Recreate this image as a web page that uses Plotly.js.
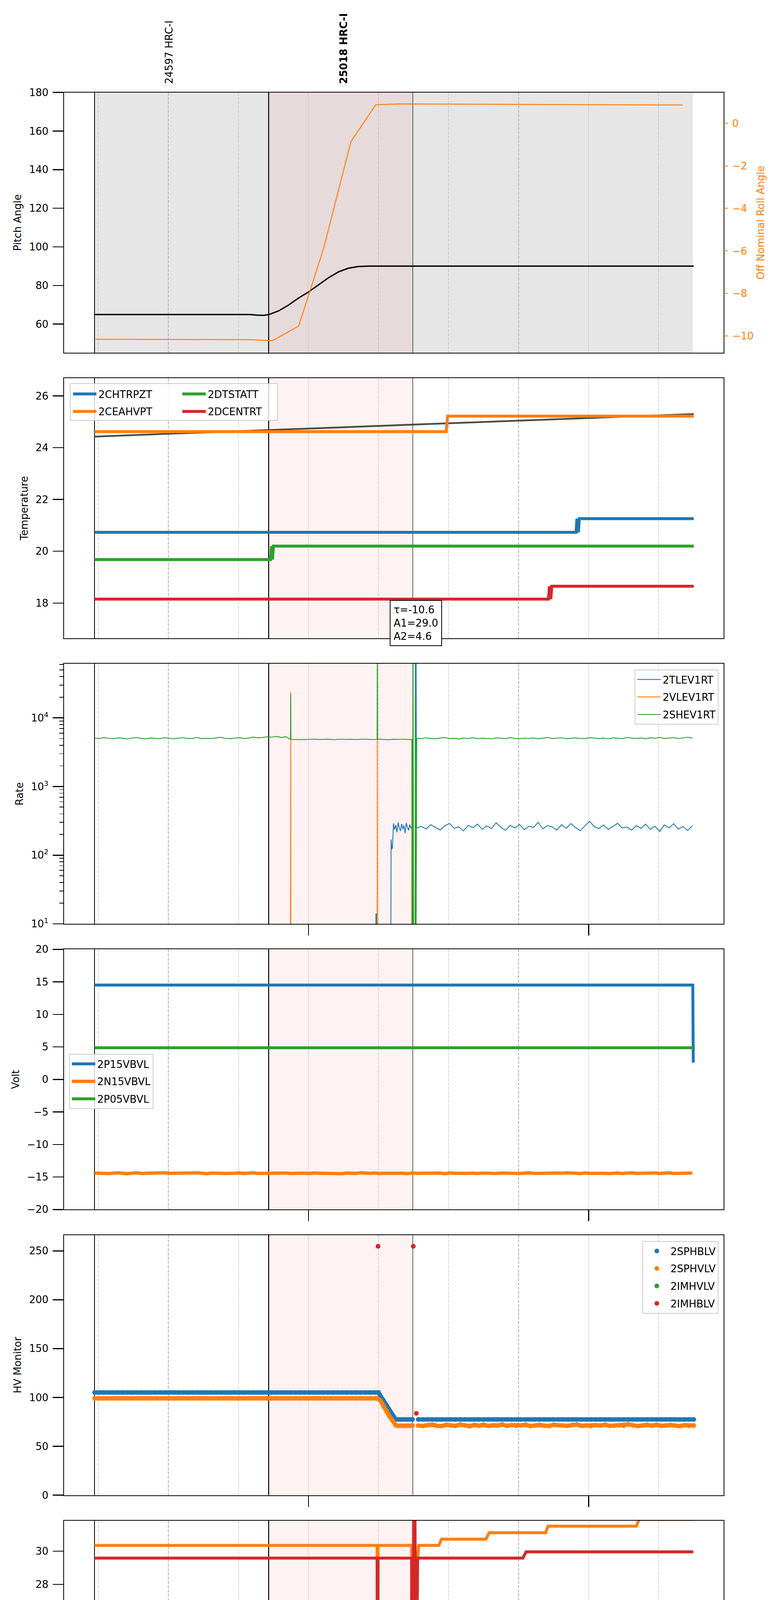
<!DOCTYPE html>
<html>
<head>
<meta charset="utf-8">
<script src="https://cdn.plot.ly/plotly-3.0.1.min.js"></script>
<style>body { margin: 0; background: #fff; }</style>
</head>
<body>
<div id="chart" style="width:2000px;height:5400px"></div>
<script>
// all times are minutes after 2021-06-22 20:00

let xRange = [7.69, 148.87];
let hourVals = [60, 120];
let hourText = ['21h', '22h'];
let quarterVals = [15, 30, 45, 75, 90, 105, 135];
let quarterText = ['15', '30', '45', '15', '30', '45', '15'];

let obsStart = 14.19, obsEnd = 142.3;
let hrcStart = 51.48, hrcEnd = 82.35;
let obsLabels = ['24597 HRC-I', '<b>25018 HRC-I</b>'];
let obsLabelX = [30.1, 67.5];

let fitText = 'τ=-10.6<br>A1=29.0<br>A2=4.6';

// --- pitch / roll
let pitchT = [14.2, 47.5, 49.0, 50.5, 51.5, 53.6, 55.7, 57.9, 60.0, 62.1, 64.3, 66.4, 68.5, 70.7, 72.8, 142.5];
let pitchV = [64.9, 64.9, 64.6, 64.5, 64.9, 66.8, 69.8, 73.5, 76.6, 80.3, 84.0, 87.0, 88.9, 89.8, 90.0, 90.0];
let rollT = [14.2, 47.2, 52.3, 57.9, 63.2, 69.1, 74.4, 79.2, 140.1];
let rollV = [-10.15, -10.17, -10.22, -9.53, -5.92, -0.86, 0.87, 0.91, 0.86];

// --- temperature
let chtrpztT = [14.2, 117.3, 117.5, 117.8, 118.0, 142.5];
let chtrpztV = [20.73, 20.73, 21.26, 20.73, 21.26, 21.26];
let ceahvptT = [14.2, 89.5, 89.8, 142.5];
let ceahvptV = [24.62, 24.62, 25.22, 25.22];
let dtstattT = [14.2, 51.9, 52.1, 52.3, 52.5, 142.5];
let dtstattV = [19.68, 19.68, 20.2, 19.68, 20.2, 20.2];
let dcentrtT = [14.2, 111.4, 111.6, 111.9, 112.1, 142.5];
let dcentrtV = [18.15, 18.15, 18.65, 18.15, 18.65, 18.65];
let trendT = [14.2, 142.5];
let trendV = [24.43, 25.30];

// --- rates (1 minute samples from 14.2)
let shevRate = [
  5080, 4990, 5150, 5020, 4960, 5110, 5050, 4930, 5070, 5180,
  5000, 4950, 5090, 5040, 4970, 5130, 5010, 4940, 5060, 5120,
  4980, 5030, 5170, 4960, 5050, 4990, 5100, 5210, 5020, 4970,
  5080, 5140, 5000, 5060, 5250, 5110, 5180, 5300,
  5240, 5350, 5180, 5300, 4880, 4840, 4870, 4820, 4860, 4900,
  4830, 4850, 4880, 4810, 4860, 4890, 4840, 4870, 4820, 4850,
  4900, 4830, 4860, 4880, 4840, 4810, 4870, 4850, 4890, 4830,
  4900, 5050, 4980, 5120, 5010, 4950, 5090, 5160, 4990, 5040,
  4930, 5080, 5020, 5130, 4970, 5060, 5000, 4940, 5110, 5050,
  4980, 5150, 5020, 4960, 5070, 5010, 5100, 4950, 5040, 5180,
  4990, 5060, 5120, 4970, 5030, 5090, 5010, 4960, 5140, 5050,
  5000, 5080, 4940, 5110, 5030, 4980, 5170, 5060, 5010, 5090,
  4950, 5130, 5040, 5200, 5000, 5070, 5150, 4990, 5100, 5220, 5060
];
let shevSpikes = [
  { t: [56.15, 56.2, 56.25], v: [4880, 21600, 4850] },
  { t: [74.7, 74.75, 74.8], v: [4850, 200000, 4850] },
  { t: [82.15, 82.25, 82.4, 82.55, 82.8, 82.9, 83.0, 83.15], v: [4850, 0.5, 200000, 0.5, 0.5, 21900, 0.5, 5000] }
];
let tlevEarlyT = [14.2, 74.4, 74.45, 74.55, 74.6, 77.6, 77.7, 77.85, 78.0];
let tlevEarlyV = [0.5, 0.5, 14, 14, 0.5, 0.5, 169, 123, 128];
// quarter minute samples from 78.2
let tlevDense = [290, 235, 275, 215, 300, 250, 225, 285, 240, 270, 210, 295, 255, 230, 280, 245, 265];
let tlevSpikeT = [82.3, 82.85, 82.9, 83.05, 83.15];
let tlevSpikeV = [0.5, 0.5, 100000, 100000, 250];
// 1 minute samples from 83.2
let tlevLate = [
  250, 262, 241, 278, 255, 232, 268, 290, 247, 259,
  226, 273, 251, 284, 238, 266, 245, 297, 255, 230,
  272, 249, 281, 236, 263, 254, 301, 242, 270, 258,
  233, 279, 246, 288, 252, 227, 267, 312, 260, 244,
  275, 238, 262, 291, 249, 257, 232, 270, 246, 283,
  237, 265, 221, 276, 250, 288, 241, 262, 229, 268
];
let vlevT = [14.2, 56.15, 56.2, 56.25, 74.7, 74.75, 74.8, 82.1, 82.15, 82.2, 142.4];
let vlevV = [0.5, 0.5, 24000, 0.5, 0.5, 4800, 0.5, 0.5, 4800, 0.5, 0.5];
let rateTickVals = [10, 100, 1000, 10000];
let rateTickText = ['10<sup>1</sup>', '10<sup>2</sup>', '10<sup>3</sup>', '10<sup>4</sup>'];
let rateMinorVals = [20, 30, 40, 50, 60, 70, 80, 90, 200, 300, 400, 500, 600, 700, 800, 900,
  2000, 3000, 4000, 5000, 6000, 7000, 8000, 9000, 20000, 30000, 40000, 50000, 60000];

// --- voltages
let p15T = [14.2, 142.3, 142.4];
let p15V = [14.51, 14.51, 2.58];
let p05T = [14.2, 142.4];
let p05V = [4.87, 4.87];
// 1 minute samples from 14.2
let n15V = [
  -14.40, -14.45, -14.38, -14.47, -14.42, -14.36, -14.44, -14.49, -14.41, -14.37,
  -14.46, -14.43, -14.39, -14.48, -14.40, -14.35, -14.44, -14.42, -14.47, -14.38,
  -14.41, -14.45, -14.37, -14.43, -14.50, -14.40, -14.36, -14.44, -14.46, -14.39,
  -14.42, -14.38, -14.47, -14.41, -14.35, -14.45, -14.43, -14.40, -14.48, -14.37,
  -14.44, -14.39, -14.46, -14.42, -14.36, -14.41, -14.47, -14.38, -14.43, -14.45,
  -14.40, -14.37, -14.44, -14.49, -14.39, -14.42, -14.46, -14.35, -14.41, -14.44,
  -14.38, -14.47, -14.43, -14.40, -14.45, -14.36, -14.42, -14.48, -14.39, -14.44,
  -14.41, -14.37, -14.46, -14.43, -14.40, -14.50, -14.38, -14.42, -14.45, -14.36,
  -14.44, -14.41, -14.47, -14.39, -14.43, -14.37, -14.46, -14.40, -14.42, -14.48,
  -14.38, -14.45, -14.41, -14.36, -14.44, -14.47, -14.40, -14.43, -14.39, -14.46,
  -14.42, -14.37, -14.45, -14.41, -14.48, -14.38, -14.44, -14.40, -14.35, -14.43,
  -14.47, -14.42, -14.39, -14.45, -14.41, -14.37, -14.46, -14.43, -14.40, -14.44,
  -14.38, -14.47, -14.42, -14.36, -14.45, -14.41, -14.39, -14.44, -14.40
];

// --- HV monitor: 1 minute samples from 14.2, a transition, then 1 minute samples from 83.5
let sphblvA = [
  105.1, 105.1, 105.1, 105.1, 105.1, 105.1, 105.1, 105.1, 105.1, 105.1,
  105.1, 105.1, 105.1, 105.1, 105.1, 105.1, 105.1, 105.1, 105.1, 105.1,
  105.1, 105.1, 105.1, 105.1, 105.1, 105.1, 105.1, 105.1, 105.1, 105.1,
  105.1, 105.1, 105.1, 105.1, 105.1, 105.1, 105.1, 105.1, 105.1, 105.1,
  105.1, 105.1, 105.1, 105.1, 105.1, 105.1, 105.1, 105.1, 105.1, 105.1,
  105.1, 105.1, 105.1, 105.1, 105.1, 105.1, 105.1, 105.1, 105.1, 105.1, 105.1
];
let sphblvMidT = [75.0, 75.3, 76.05, 76.7, 77.3, 77.97, 78.7, 79.3, 79.9, 80.5, 81.1, 81.7, 82.3];
let sphblvMidV = [105.1, 102.6, 97.0, 91.9, 86.9, 82.0, 77.5, 77.5, 77.5, 77.5, 77.5, 77.5, 77.5];
let sphblvB = [
  77.5, 77.5, 77.5, 77.5, 77.5, 77.5, 77.5, 77.5, 77.5, 77.5,
  77.5, 77.5, 77.5, 77.5, 77.5, 77.5, 77.5, 77.5, 77.5, 77.5,
  77.5, 77.5, 77.5, 77.5, 77.5, 77.5, 77.5, 77.5, 77.5, 77.5,
  77.5, 77.5, 77.5, 77.5, 77.5, 77.5, 77.5, 77.5, 77.5, 77.5,
  77.5, 77.5, 77.5, 77.5, 77.5, 77.5, 77.5, 77.5, 77.5, 77.5,
  77.5, 77.5, 77.5, 77.5, 77.5, 77.5, 77.5, 77.5, 77.5, 77.5
];
let sphvlvA = [
  99.05, 99.05, 99.05, 99.05, 99.05, 99.05, 99.05, 99.05, 99.05, 99.05,
  99.05, 99.05, 99.05, 99.05, 99.05, 99.05, 99.05, 99.05, 99.05, 99.05,
  99.05, 99.05, 99.05, 99.05, 99.05, 99.05, 99.05, 99.05, 99.05, 99.05,
  99.05, 99.05, 99.05, 99.05, 99.05, 99.05, 99.05, 99.05, 99.05, 99.05,
  99.05, 99.05, 99.05, 99.05, 99.05, 99.05, 99.05, 99.05, 99.05, 99.05,
  99.05, 99.05, 99.05, 99.05, 99.05, 99.05, 99.05, 99.05, 99.05, 99.05, 99.05
];
let sphvlvMidT = [74.7, 75.4, 76.05, 76.7, 77.3, 77.97, 78.7, 79.3, 79.9, 80.5, 81.1, 81.7, 82.3];
let sphvlvMidV = [99.05, 97.0, 91.0, 85.8, 81.0, 76.7, 71.4, 71.0, 71.2, 70.9, 71.1, 71.0, 71.2];
let sphvlvB = [
  71.2, 70.8, 71.6, 72.1, 71.0, 70.7, 71.9, 71.3, 70.9, 72.2,
  71.4, 70.6, 71.8, 71.1, 72.0, 70.8, 71.5, 71.2, 72.3, 70.9,
  71.7, 71.0, 71.4, 72.1, 70.7, 71.3, 71.9, 71.1, 70.8, 72.0,
  71.5, 71.2, 70.9, 71.8, 72.2, 71.0, 71.4, 70.7, 71.6, 71.3,
  72.1, 70.9, 71.2, 71.7, 71.0, 72.4, 71.5, 70.8, 71.3, 71.9,
  71.1, 72.0, 70.9, 71.4, 71.8, 71.2, 70.7, 71.6, 71.0, 71.3
];
let imhvlvT = [74.9, 82.45];
let imhvlvV = [254.7, 254.7];
let imhblvT = [74.9, 82.45, 83.1];
let imhblvV = [254.7, 254.7, 83.7];

// --- detector temperatures
let spinatmT = [14.2, 82.8, 82.95, 83.4, 119.3, 119.8, 120.3, 120.8, 142.4];
let spinatmV = [17.62, 17.62, 18.2, 17.62, 17.62, 18.3, 17.62, 18.28, 18.28];
let sphvatmT = [14.2, 74.7, 74.8, 74.9, 82.1, 82.2, 83.4, 83.6, 87.9, 88.5, 98.0, 98.7, 110.8, 111.3, 130.2, 130.8, 142.4];
let sphvatmV = [30.35, 30.35, 0, 30.35, 30.35, 0, 29.5, 30.35, 30.35, 30.73, 30.73, 31.12, 31.12, 31.51, 31.51, 31.92, 31.92];
let iminatmT = [14.2, 23.8, 24.5, 74.7, 74.8, 74.9, 82.15, 82.2, 82.8, 82.95, 83.8, 142.4];
let iminatmV = [18.93, 18.93, 19.65, 19.65, 0, 19.65, 19.65, 0, 25, 18.2, 19.65, 19.65];
let imhvatmT = [14.2, 74.7, 74.8, 74.9, 82.1, 82.2, 82.6, 83.1, 83.35, 105.9, 106.6, 142.4];
let imhvatmV = [29.58, 29.58, 0, 29.58, 29.58, 0, 40, 20.47, 29.58, 29.58, 29.96, 29.96];

// --- FEA temperatures
let fhtrmztT = [14.2, 28.6, 29.0, 105.0, 105.5, 142.5];
let fhtrmztV = [23.47, 23.47, 24.04, 24.04, 23.47, 23.47];
let fradpytT = [14.2, 46.6, 46.9, 64.4, 64.8, 73.5, 73.9, 85.0, 85.4, 110.4, 110.8, 142.5];
let fradpytV = [19.68, 19.68, 20.21, 20.21, 19.68, 19.68, 19.17, 19.17, 18.67, 18.67, 18.16, 18.16];
let fepratmT = [14.2, 74.7, 74.8, 74.9, 82.15, 82.2, 82.8, 82.95, 83.7, 142.4];
let fepratmV = [25.39, 25.39, 0, 25.39, 25.39, 0, 30, 18.25, 25.39, 25.39];
let fe00atmT = [14.2, 26.6, 27.1, 74.7, 74.8, 74.9, 77.7, 77.8, 77.9, 82.1, 82.2, 82.6, 83.1, 83.35, 97.2, 97.8, 142.4];
let fe00atmV = [23.3, 23.3, 23.64, 23.64, 0, 23.64, 23.64, 24.0, 23.64, 23.64, 0, 35, 20.44, 23.64, 23.64, 23.3, 23.3];


let col = { blue: '#1f77b4', orange: '#ff7f0e', green: '#2ca02c', red: '#d62728' };
let W = 2000, H = 5400;
let panelTop = [236.7, 967.9, 1699.1, 2430.3, 3161.5, 3892.7, 4623.9];
let panelH = 666;
let xDom = [164.3 / W, 1852.7 / W];

function sampled(start, step, vals) {
  return { t: vals.map((v, i) => Math.round((start + i * step) * 1000) / 1000), v: vals };
}

function joined(...parts) {
  return { t: [].concat(...parts.map(p => p.t)), v: [].concat(...parts.map(p => p.v)) };
}

let gap = { t: [null], v: [null] };

function withSpikes(base, groups) {
  let pts = base.t.map((t, i) => [t, base.v[i]]);
  for (let g of groups) {
    let lo = Math.min(...g.t), hi = Math.max(...g.t);
    pts = pts.filter(p => p[0] < lo || p[0] > hi);
    g.t.forEach((t, i) => pts.push([t, g.v[i]]));
  }
  pts.sort((a, b) => a[0] - b[0]);
  return { t: pts.map(p => p[0]), v: pts.map(p => p[1]) };
}

function id(i) { return i === 1 ? '' : String(i); }

function line(i, t, v, name, color, width, legend) {
  return {
    type: 'scatter', mode: 'lines', x: t, y: v, name: name,
    line: { color: color, width: width },
    xaxis: 'x' + id(i), yaxis: 'y' + id(i),
    legend: legend || 'legend', showlegend: !!legend, legendgroup: name,
    hoverinfo: 'skip'
  };
}

function dots(i, t, v, name, color, legend) {
  return {
    type: 'scatter', mode: 'markers', x: t, y: v, name: name,
    marker: { color: color, size: 12 },
    xaxis: 'x' + id(i), yaxis: 'y' + id(i),
    legend: legend, legendgroup: name, hoverinfo: 'skip'
  };
}

// dense samples: the dots are joined by a band of the same width so they read as one trace
function denseDots(i, s, name, color, legend) {
  let band = line(i, s.t, s.v, name, color, 11);
  band.legendgroup = name;
  return [band, dots(i, s.t, s.v, name, color, legend)];
}

let shev = withSpikes(sampled(14.2, 1, shevRate), shevSpikes);
let tlev = joined({ t: tlevEarlyT, v: tlevEarlyV }, sampled(78.2, 0.25, tlevDense),
  { t: tlevSpikeT, v: tlevSpikeV }, sampled(83.2, 1, tlevLate));
let n15 = sampled(14.2, 1, n15V);
let sphblv = joined(sampled(14.2, 1, sphblvA), { t: sphblvMidT, v: sphblvMidV }, gap, sampled(83.5, 1, sphblvB));
let sphvlv = joined(sampled(14.2, 1, sphvlvA), { t: sphvlvMidT, v: sphvlvMidV }, gap, sampled(83.5, 1, sphvlvB));

let rollTrace = line(1, rollT, rollV, 'roll', col.orange, 2.5);
rollTrace.yaxis = 'y8';

let data = [
  line(1, pitchT, pitchV, 'pitch', 'black', 3.5),
  rollTrace,

  line(2, trendT, trendV, 'trend', 'rgba(55,55,55,0.9)', 4.5),
  line(2, chtrpztT, chtrpztV, '2CHTRPZT', col.blue, 7.5, 'legend'),
  line(2, ceahvptT, ceahvptV, '2CEAHVPT', col.orange, 7.5, 'legend'),
  line(2, dtstattT, dtstattV, '2DTSTATT', col.green, 7.5, 'legend2'),
  line(2, dcentrtT, dcentrtV, '2DCENTRT', col.red, 7.5, 'legend2'),

  line(3, tlev.t, tlev.v, '2TLEV1RT', col.blue, 2.2, 'legend3'),
  line(3, vlevT, vlevV, '2VLEV1RT', col.orange, 2.2, 'legend3'),
  line(3, shev.t, shev.v, '2SHEV1RT', col.green, 2.2, 'legend3'),

  line(4, p15T, p15V, '2P15VBVL', col.blue, 7.5, 'legend4'),
  line(4, n15.t, n15.v, '2N15VBVL', col.orange, 8.5, 'legend4'),
  line(4, p05T, p05V, '2P05VBVL', col.green, 7.5, 'legend4'),

  ...denseDots(5, sphblv, '2SPHBLV', col.blue, 'legend5'),
  ...denseDots(5, sphvlv, '2SPHVLV', col.orange, 'legend5'),
  dots(5, imhvlvT, imhvlvV, '2IMHVLV', col.green, 'legend5'),
  dots(5, imhblvT, imhblvV, '2IMHBLV', col.red, 'legend5'),

  line(6, spinatmT, spinatmV, '2SPINATM', col.blue, 7.5, 'legend6'),
  line(6, sphvatmT, sphvatmV, '2SPHVATM', col.orange, 7.5, 'legend6'),
  line(6, iminatmT, iminatmV, '2IMINATM', col.green, 7.5, 'legend6'),
  line(6, imhvatmT, imhvatmV, '2IMHVATM', col.red, 7.5, 'legend6'),

  line(7, fhtrmztT, fhtrmztV, '2FHTRMZT', col.blue, 7.5, 'legend7'),
  line(7, fradpytT, fradpytV, '2FRADPYT', col.orange, 7.5, 'legend7'),
  line(7, fepratmT, fepratmV, '2FEPRATM', col.green, 7.5, 'legend7'),
  line(7, fe00atmT, fe00atmV, '2FE00ATM', col.red, 7.5, 'legend7'),

  { type: 'scatter', x: [], y: [], xaxis: 'x8', yaxis: 'y7', showlegend: false, hoverinfo: 'skip' }
];

let yTitles = ['Pitch Angle', 'Temperature', 'Rate', 'Volt', 'HV Monitor', 'Detector Temp', 'FEA Temp'];
let yRanges = [[45.2, 180], [16.64, 26.69], [1, 4.788], [-20, 20], [0, 266.3], [16.13, 31.85], [17.155, 26.875]];
let yDticks = [20, 2, null, 5, 50, 2, 2];

let layout = {
  width: W, height: H,
  margin: { l: 0, r: 0, t: 0, b: 0 },
  paper_bgcolor: 'white', plot_bgcolor: 'white',
  font: { family: 'DejaVu Sans', size: 26, color: 'black' },
  showlegend: true,
  hovermode: false,
  shapes: [],
  annotations: []
};

for (let i = 1; i <= 7; i++) {
  let top = panelTop[i - 1];
  let xa = {
    anchor: 'y' + id(i), domain: xDom, range: xRange,
    tickmode: 'array', tickvals: hourVals, ticktext: hourText,
    ticks: i >= 3 ? 'outside' : '', ticklen: 28, tickwidth: 2.5, tickcolor: 'black',
    showticklabels: i === 7, tickfont: { size: 26 },
    showgrid: true, gridcolor: '#c4c4c4', gridwidth: 1.2,
    minor: { tickmode: 'array', tickvals: quarterVals, ticks: '', showgrid: true,
             gridcolor: '#b0b0b0', gridwidth: 1.3, griddash: '8px,3px' },
    showline: true, mirror: true, linecolor: 'black', linewidth: 2, zeroline: false
  };
  if (i === 7) xa.title = { text: '2021-06-22 (173)', font: { size: 33 }, standoff: 8 };
  layout['xaxis' + id(i)] = xa;

  let ya = {
    anchor: 'x' + id(i), domain: [1 - (top + panelH) / H, 1 - top / H],
    range: yRanges[i - 1],
    ticks: 'outside', ticklen: 27, tickwidth: 2.5, tickcolor: 'black',
    tickfont: { size: 26 }, ticklabelstandoff: 6,
    title: { text: yTitles[i - 1], font: { size: 26 }, standoff: 12 },
    showline: true, mirror: true, linecolor: 'black', linewidth: 2,
    showgrid: false, zeroline: false
  };
  if (i === 3) {
    ya.type = 'log';
    ya.tickmode = 'array';
    ya.tickvals = rateTickVals;
    ya.ticktext = rateTickText;
    ya.minor = { tickmode: 'array', tickvals: rateMinorVals, ticks: 'outside', ticklen: 10,
                 tickwidth: 1.8, tickcolor: 'black', showgrid: false };
  } else {
    ya.dtick = yDticks[i - 1];
  }
  layout['yaxis' + id(i)] = ya;

  if (i === 1) {
    layout.shapes.push({ type: 'rect', xref: 'x', yref: 'y domain', x0: obsStart, x1: obsEnd, y0: 0, y1: 1,
      fillcolor: 'rgba(128,128,128,0.2)', line: { width: 0 }, layer: 'below' });
  }
  layout.shapes.push({ type: 'rect', xref: 'x' + id(i), yref: 'y' + id(i) + ' domain',
    x0: hrcStart, x1: hrcEnd, y0: 0, y1: 1,
    fillcolor: 'rgba(255,0,0,0.05)', line: { width: 0 }, layer: 'below' });
  [[obsStart, 2], [hrcStart, 2.5], [hrcEnd, 1.2]].forEach(([x, w]) => {
    layout.shapes.push({ type: 'line', xref: 'x' + id(i), yref: 'y' + id(i) + ' domain',
      x0: x, x1: x, y0: 0, y1: 1, line: { color: 'black', width: w }, layer: 'below' });
  });
}

layout.yaxis8 = {
  overlaying: 'y', side: 'right', anchor: 'x', range: [-10.78, 1.45], dtick: 2,
  ticks: 'outside', ticklen: 10, tickwidth: 2, tickcolor: col.orange,
  tickfont: { size: 26, color: col.orange }, ticklabelstandoff: 6,
  title: { text: 'Off Nominal Roll Angle', font: { size: 26, color: col.orange }, standoff: 10 },
  showline: false, showgrid: false, zeroline: false
};

layout.xaxis8 = {
  overlaying: 'x7', anchor: 'y7', side: 'bottom', range: xRange,
  tickmode: 'array', tickvals: quarterVals, ticktext: quarterText,
  ticks: '', tickfont: { size: 17 }, ticklabelstandoff: 4,
  showgrid: false, showline: false, zeroline: false
};

function legendAt(x, y, xanchor, framed) {
  return {
    x: x, y: y, xanchor: xanchor, yanchor: 'top', xref: 'paper', yref: 'paper',
    bgcolor: framed ? 'rgba(255,255,255,0.8)' : 'rgba(0,0,0,0)',
    bordercolor: '#cccccc', borderwidth: framed ? 2 : 0,
    font: { size: 26 }, traceorder: 'grouped', tracegroupgap: 8, itemwidth: 60
  };
}

layout.legend = legendAt(182 / W, 1 - 985 / H, 'left', false);
layout.legend2 = legendAt(462 / W, 1 - 985 / H, 'left', false);
layout.legend3 = legendAt(1840 / W, 1 - 1714 / H, 'right', true);
layout.legend4 = legendAt(177 / W, 1 - 2698 / H, 'left', true);
layout.legend5 = legendAt(1840 / W, 1 - 3177 / H, 'right', true);
layout.legend6 = legendAt(1840 / W, 1 - 4141 / H, 'right', true);
layout.legend7 = legendAt(883 / W, 1 - 4872 / H, 'left', true);

// frame shared by the two legend columns of the temperature panel
layout.shapes.push({ type: 'rect', xref: 'paper', yref: 'paper',
  x0: 180 / W, x1: 711 / W, y0: 1 - 1076 / H, y1: 1 - 982 / H,
  fillcolor: 'rgba(255,255,255,0.8)', line: { color: '#cccccc', width: 2 }, layer: 'above' });

obsLabels.forEach((txt, k) => {
  layout.annotations.push({ text: txt, xref: 'x', yref: 'paper', x: obsLabelX[k], y: 1 - 217 / H,
    xanchor: 'center', yanchor: 'bottom', textangle: -90, showarrow: false, font: { size: 26 } });
});

layout.annotations.push({ text: fitText, xref: 'paper', yref: 'paper', x: 998 / W, y: 1 - 1536 / H,
  xanchor: 'left', yanchor: 'top', align: 'left', showarrow: false, font: { size: 26 },
  bgcolor: 'white', bordercolor: 'black', borderwidth: 2, borderpad: 8 });

Plotly.newPlot('chart', data, layout, { staticPlot: true });
</script>
</body>
</html>
